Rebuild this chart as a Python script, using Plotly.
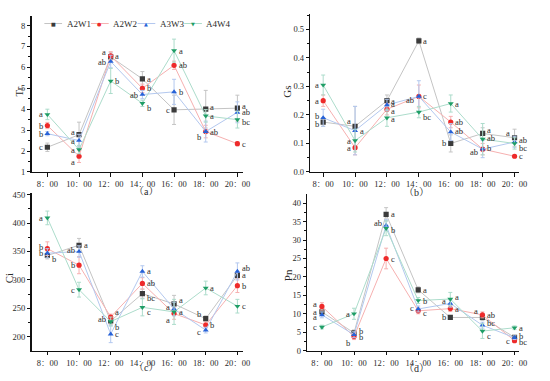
import plotly.graph_objects as go

# ---------------- data ----------------
times = ["8：00", "10：00", "12：00", "14：00", "16：00", "18：00", "20：00"]
series = ["A2W1", "A2W2", "A3W3", "A4W4"]

# Tr
tr_values = {
    "A2W1": [2.18, 2.78, 6.50, 5.45, 3.97, 4.00, 4.05],
    "A2W2": [3.22, 1.75, 6.55, 5.00, 6.10, 2.93, 2.35],
    "A3W3": [2.83, 2.50, 6.28, 4.70, 4.83, 2.93, 3.85],
    "A4W4": [3.75, 2.07, 5.35, 4.28, 6.80, 3.68, 3.50],
}
tr_errors = {
    "A2W1": [0.20, 0.60, 0.20, 0.35, 0.70, 0.90, 0.62],
    "A2W2": [0.15, 0.30, 0.20, 0.20, 0.20, 0.30, 0.10],
    "A3W3": [0.10, 0.30, 0.30, 0.20, 0.60, 0.50, 0.50],
    "A4W4": [0.25, 0.20, 0.60, 0.15, 0.55, 0.30, 0.40],
}
tr_letters = {
    "A2W1": ["c", "a", "a", "a", "c", "a", "a"],
    "A2W2": ["b", "a", "a", "b", "ab", "ab", "c"],
    "A3W3": ["b", "a", "ab", "ab", "b", "b", "ab"],
    "A4W4": ["a", "a", "b", "b", "a", "a", "bc"],
}

# Gs
gs_values = {
    "A2W1": [0.175, 0.160, 0.250, 0.460, 0.100, 0.135, 0.120],
    "A2W2": [0.250, 0.085, 0.220, 0.265, 0.175, 0.080, 0.055],
    "A3W3": [0.190, 0.145, 0.235, 0.265, 0.140, 0.080, 0.105],
    "A4W4": [0.305, 0.110, 0.190, 0.210, 0.240, 0.115, 0.100],
}
gs_errors = {
    "A2W1": [0.015, 0.070, 0.020, 0.010, 0.030, 0.020, 0.030],
    "A2W2": [0.020, 0.025, 0.020, 0.040, 0.020, 0.020, 0.005],
    "A3W3": [0.030, 0.085, 0.020, 0.055, 0.030, 0.030, 0.020],
    "A4W4": [0.035, 0.040, 0.030, 0.020, 0.030, 0.055, 0.020],
}
gs_letters = {
    "A2W1": ["b", "a", "a", "a", "b", "a", "a"],
    "A2W2": ["a", "a", "a", "ab", "ab", "ab", "c"],
    "A3W3": ["b", "a", "a", "c", "ab", "b", "ab"],
    "A4W4": ["a", "a", "a", "bc", "a", "ab", "bc"],
}

# Ci
ci_values = {
    "A2W1": [343, 361, 228, 276, 258, 232, 308],
    "A2W2": [355, 326, 235, 294, 241, 221, 290],
    "A3W3": [347, 350, 205, 315, 249, 212, 315],
    "A4W4": [409, 283, 227, 252, 244, 286, 254],
}
ci_errors = {
    "A2W1": [6, 12, 6, 8, 15, 5, 5],
    "A2W2": [12, 15, 5, 10, 10, 5, 12],
    "A3W3": [8, 10, 15, 10, 12, 5, 15],
    "A4W4": [12, 13, 8, 15, 22, 12, 12],
}
ci_letters = {
    "A2W1": ["b", "a", "ab", "bc", "a", "b", "a"],
    "A2W2": ["b", "b", "a", "ab", "a", "b", "b"],
    "A3W3": ["b", "ab", "c", "a", "a", "c", "ab"],
    "A4W4": ["a", "c", "b", "c", "a", "a", "c"],
}

# Pn
pn_values = {
    "A2W1": [10.5, 4.8, 37.0, 16.5, 9.0, 9.0, 3.6],
    "A2W2": [12.0, 3.8, 25.0, 10.8, 11.4, 9.7, 2.7],
    "A3W3": [9.7, 4.3, 34.0, 11.3, 12.8, 6.9, 3.5],
    "A4W4": [6.4, 10.0, 33.2, 13.6, 14.0, 5.3, 6.2],
}
pn_errors = {
    "A2W1": [0.8, 0.8, 1.8, 0.8, 0.5, 0.8, 0.5],
    "A2W2": [1.0, 0.8, 2.8, 0.8, 0.8, 0.8, 0.5],
    "A3W3": [0.8, 0.8, 1.5, 0.8, 1.0, 0.8, 0.5],
    "A4W4": [0.5, 1.5, 2.0, 0.8, 1.8, 2.0, 0.5],
}
pn_letters = {
    "A2W1": ["a", "b", "a", "a", "b", "ab", "c"],
    "A2W2": ["a", "b", "c", "c", "a", "a", "bc"],
    "A3W3": ["a", "b", "ab", "c", "a", "bc", "b"],
    "A4W4": ["c", "a", "b", "b", "a", "c", "a"],
}

# ---------------- style ----------------
line_colors = {"A2W1": "#c4c4c4", "A2W2": "#f6b0b0", "A3W3": "#b3c8ef", "A4W4": "#acdccb"}
marker_colors = {"A2W1": "#3b3b3b", "A2W2": "#ee2a2a", "A3W3": "#2762d8", "A4W4": "#1f9e66"}
marker_symbols = {"A2W1": "square", "A2W2": "circle", "A3W3": "triangle-up", "A4W4": "triangle-down"}
legend_glyphs = {"A2W1": "■", "A2W2": "●", "A3W3": "▲", "A4W4": "▼"}

# label placement: (side, vertical shift px)
tr_pos = {
    "A2W1": [("l", 0), ("l", 3), ("l", 5), ("r", 0), ("l", 0), ("r", 2), ("r", 2)],
    "A2W2": [("l", 0), ("l", -6), ("r", 0), ("r", 0), ("r", 0), ("r", 0), ("r", 0)],
    "A3W3": [("l", 0), ("l", 0), ("l", 0), ("l", 0), ("r", 0), ("l", -5), ("r", 0)],
    "A4W4": [("l", 0), ("l", 0), ("r", 0), ("r", -5), ("r", 0), ("r", 0), ("r", -2)],
}
gs_pos = {
    "A2W1": [("l", -2), ("l", 5), ("r", 0), ("r", 0), ("l", 0), ("r", 3), ("l", 5)],
    "A2W2": [("l", 0), ("l", 0), ("r", -2), ("l", -4), ("r", 0), ("l", -3), ("r", 0)],
    "A3W3": [("l", 2), ("r", 0), ("r", 1), ("r", 0), ("r", 1), ("r", 1), ("r", 2)],
    "A4W4": [("l", 0), ("l", 0), ("r", -1), ("r", -5), ("r", 0), ("r", 1), ("r", -5)],
}
ci_pos = {
    "A2W1": [("r", -4), ("r", 0), ("l", 2), ("r", -4), ("r", 4), ("l", 5), ("r", 0)],
    "A2W2": [("l", 2), ("l", 0), ("r", 5), ("r", 0), ("l", -6), ("r", 0), ("r", 0)],
    "A3W3": [("l", 0), ("l", 2), ("r", 0), ("r", 0), ("l", 2), ("l", -2), ("r", 3)],
    "A4W4": [("l", 0), ("l", 0), ("r", -5), ("r", -5), ("r", 0), ("r", 0), ("r", 0)],
}
pn_pos = {
    "A2W1": [("l", 0), ("r", 2), ("r", 0), ("r", 0), ("l", 0), ("r", 2), ("l", -4)],
    "A2W2": [("l", 2), ("l", -6), ("r", 0), ("r", -2), ("r", 0), ("l", 4), ("r", -1)],
    "A3W3": [("l", -2), ("r", -2), ("l", 2), ("l", 1), ("l", 2), ("r", 2), ("r", 2)],
    "A4W4": [("l", 0), ("l", 0), ("r", -2), ("r", 0), ("r", 2), ("r", -5), ("r", 0)],
}

W, H = 550, 381
SERIF = '"Liberation Serif", "Noto Serif CJK SC", "Noto Sans CJK SC", serif'
TXT = "#2a2a2a"


def px_x(p):
    return p / W


def px_y(p):
    return 1 - p / H


panels = [
    dict(v=tr_values, e=tr_errors, l=tr_letters, p=tr_pos, title="Tr",
         xd=(32, 247), yd=(172, 12), yr=(1, 8.47), dt=1, mdt=0.5, fmt="d",
         cap="（a）", tpos=(19, 90), cpos=(148, 192), xr=(-0.5, 6.19)),
    dict(v=gs_values, e=gs_errors, l=gs_letters, p=gs_pos, title="Gs",
         xd=(315, 527), yd=(172, 10), yr=(0, 0.555), dt=0.1, mdt=0.05, fmt=".1f",
         cap="（b）", tpos=(291, 90), cpos=(423, 193), xr=(-0.4, 6.15)),
    dict(v=ci_values, e=ci_errors, l=ci_letters, p=ci_pos, title="Ci",
         xd=(32, 247), yd=(355, 194), yr=(176, 452), dt=50, mdt=25, fmt="d",
         cap="（c）", tpos=(9, 281), cpos=(148, 372), xr=(-0.5, 6.19)),
    dict(v=pn_values, e=pn_errors, l=pn_letters, p=pn_pos, title="Pn",
         xd=(312, 527), yd=(355, 195), yr=(0, 42.4), dt=5, mdt=2.5, fmt="d",
         cap="（d）", tpos=(293, 278), cpos=(423, 373), xr=(-0.45, 6.15)),
]

fig = go.Figure()
annotations = []
shapes = []

for i, pn in enumerate(panels):
    k = "" if i == 0 else str(i + 1)
    xa, ya = "x" + k, "y" + k
    for s in series:
        fig.add_trace(go.Scatter(
            x=times, y=pn["v"][s], name=s, xaxis=xa, yaxis=ya,
            mode="lines+markers", showlegend=False, hoverinfo="skip",
            line=dict(color=line_colors[s], width=1),
            marker=dict(color=marker_colors[s], symbol=marker_symbols[s], size=5.2,
                        line=dict(width=0)),
            error_y=dict(type="data", array=pn["e"][s], visible=True,
                         color=line_colors[s], thickness=1, width=2),
        ))
        for j, t in enumerate(times):
            side, dy = pn["p"][s][j]
            annotations.append(dict(
                x=t, y=pn["v"][s][j], xref=xa, yref=ya, text=pn["l"][s][j],
                showarrow=False, xanchor="left" if side == "r" else "right",
                yanchor="middle",
                xshift=2.5 if side == "r" else -2.5, yshift=dy,
                font=dict(family=SERIF, size=8.5, color=TXT),
            ))
    axis_common = dict(showline=True, linecolor="#111", linewidth=1.2, ticks="outside",
                       tickcolor="#111", ticklen=3.5, tickwidth=1, showgrid=False,
                       zeroline=False, tickfont=dict(family=SERIF, size=8.5, color=TXT))
    fig.update_layout(**{
        ("xaxis" + k): dict(domain=[px_x(pn["xd"][0]), px_x(pn["xd"][1])], anchor=ya,
                            type="category", categoryarray=times, range=list(pn["xr"]),
                            **axis_common),
        ("yaxis" + k): dict(domain=[px_y(pn["yd"][0]), px_y(pn["yd"][1])], anchor=xa,
                            range=list(pn["yr"]), dtick=pn["dt"], tick0=0,
                            tickformat=pn["fmt"],
                            minor=dict(ticks="outside", ticklen=2, dtick=pn["mdt"],
                                       tickcolor="#111"),
                            **axis_common),
    })
    annotations.append(dict(x=px_x(pn["tpos"][0]), y=px_y(pn["tpos"][1]), xref="paper",
                            yref="paper", text=pn["title"], showarrow=False, textangle=-90,
                            xanchor="center", yanchor="middle",
                            font=dict(family=SERIF, size=11, color=TXT)))
    annotations.append(dict(x=px_x(pn["cpos"][0]), y=px_y(pn["cpos"][1]), xref="paper",
                            yref="paper", text=pn["cap"], showarrow=False,
                            xanchor="center", yanchor="middle",
                            font=dict(family=SERIF, size=10, color=TXT)))

# custom compact legend inside panel (a)
leg_x0, leg_y, leg_step = 45, 20, 47.3
for n, s in enumerate(series):
    x0 = leg_x0 + n * leg_step
    shapes.append(dict(type="line", xref="paper", yref="paper",
                       x0=px_x(x0), x1=px_x(x0 + 18), y0=px_y(leg_y), y1=px_y(leg_y),
                       line=dict(color=line_colors[s], width=1)))
    annotations.append(dict(x=px_x(x0 + 9), y=px_y(leg_y), xref="paper", yref="paper",
                            text=legend_glyphs[s], showarrow=False,
                            xanchor="center", yanchor="middle",
                            font=dict(family="DejaVu Sans", size=5, color=marker_colors[s])))
    annotations.append(dict(x=px_x(x0 + 20.5), y=px_y(leg_y), xref="paper", yref="paper",
                            text=s, showarrow=False, xanchor="left", yanchor="middle",
                            font=dict(family=SERIF, size=9, color=TXT)))

fig.update_layout(width=W, height=H, margin=dict(l=0, r=0, t=0, b=0),
                  paper_bgcolor="white", plot_bgcolor="white", hovermode=False,
                  annotations=annotations, shapes=shapes, showlegend=False)

fig.write_html("out.html", config={"displayModeBar": False, "staticPlot": True},
               post_script="document.body.style.margin='0';")
